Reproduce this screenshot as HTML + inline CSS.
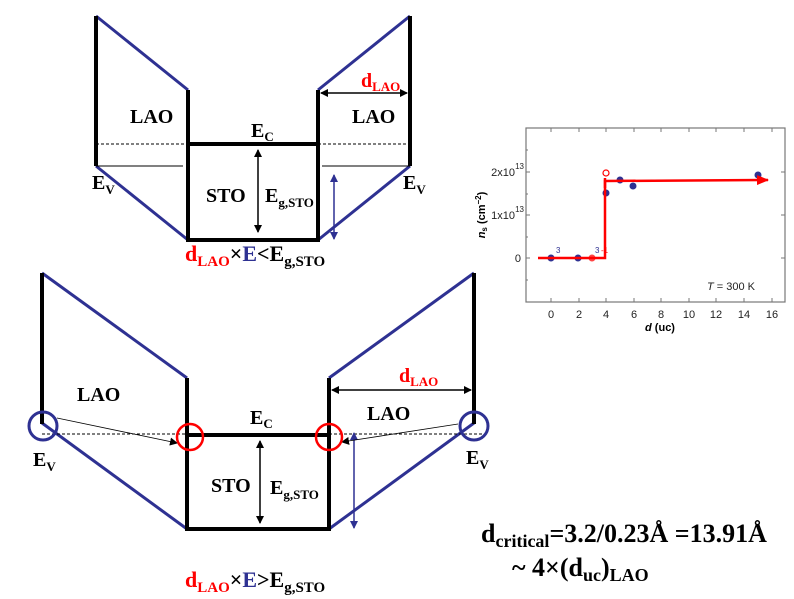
<!DOCTYPE html>
<html><head><meta charset="utf-8"><style>
html,body{margin:0;padding:0;background:#fff;}
svg{display:block;}
.s{font-family:"Liberation Serif",serif;font-weight:bold;}
.a{font-family:"Liberation Sans",sans-serif;}
</style></head><body>
<svg width="794" height="599" viewBox="0 0 794 599" xmlns="http://www.w3.org/2000/svg">
<defs>
<marker id="ak" markerWidth="8" markerHeight="8" refX="7" refY="4" orient="auto-start-reverse" markerUnits="userSpaceOnUse"><path d="M0,0 L8,4 L0,8 z" fill="#000"/></marker>
<marker id="ab" markerWidth="8" markerHeight="8" refX="7" refY="4" orient="auto-start-reverse" markerUnits="userSpaceOnUse"><path d="M0,0 L8,4 L0,8 z" fill="#2e3192"/></marker>
<marker id="ar" markerWidth="12" markerHeight="10" refX="11" refY="5" orient="auto" markerUnits="userSpaceOnUse"><path d="M0,0 L12,5 L0,10 z" fill="#f00"/></marker>
</defs>
<!-- TOP DIAGRAM -->
<g stroke-linecap="butt">
<line x1="96" y1="16" x2="188" y2="90" stroke="#2e3192" stroke-width="3"/>
<line x1="96" y1="166" x2="188" y2="240" stroke="#2e3192" stroke-width="3"/>
<line x1="318" y1="90" x2="410" y2="16" stroke="#2e3192" stroke-width="3"/>
<line x1="318" y1="240" x2="410" y2="166" stroke="#2e3192" stroke-width="3"/>
<line x1="96" y1="16" x2="96" y2="166" stroke="#000" stroke-width="4"/>
<line x1="410" y1="16" x2="410" y2="166" stroke="#000" stroke-width="4"/>
<line x1="188" y1="90" x2="188" y2="240" stroke="#000" stroke-width="4"/>
<line x1="318" y1="90" x2="318" y2="240" stroke="#000" stroke-width="4"/>
<line x1="188" y1="144" x2="318" y2="144" stroke="#000" stroke-width="4"/>
<line x1="186" y1="240" x2="320" y2="240" stroke="#000" stroke-width="4"/>
<line x1="96" y1="144" x2="188" y2="144" stroke="#000" stroke-width="1" stroke-dasharray="3,2"/>
<line x1="318" y1="144" x2="410" y2="144" stroke="#000" stroke-width="1" stroke-dasharray="3,2"/>
<line x1="96" y1="166" x2="183" y2="166" stroke="#000" stroke-width="1"/>
<line x1="322" y1="166" x2="410" y2="166" stroke="#000" stroke-width="1"/>
<line x1="321" y1="93" x2="407" y2="93" stroke="#000" stroke-width="1.5" marker-start="url(#ak)" marker-end="url(#ak)"/>
<line x1="258" y1="150" x2="258" y2="232" stroke="#000" stroke-width="1.5" marker-start="url(#ak)" marker-end="url(#ak)"/>
<line x1="334" y1="175" x2="334" y2="239" stroke="#2e3192" stroke-width="1.5" marker-start="url(#ab)" marker-end="url(#ab)"/>
</g>
<g class="s" font-size="20">
<text x="130" y="123">LAO</text>
<text x="352" y="123">LAO</text>
<text x="251" y="137">E<tspan font-size="13" dy="4">C</tspan></text>
<text x="206" y="202">STO</text>
<text x="265" y="202">E<tspan font-size="13" dy="5">g,STO</tspan></text>
<text x="92" y="189">E<tspan font-size="13" dy="5">V</tspan></text>
<text x="403" y="189">E<tspan font-size="13" dy="5">V</tspan></text>
<text x="361" y="87" fill="#f00">d<tspan font-size="13" dy="4">LAO</tspan></text>
</g>
<text class="s" x="185" y="261" font-size="22"><tspan fill="#f00">d</tspan><tspan fill="#f00" font-size="15" dy="5">LAO</tspan><tspan dy="-5">×</tspan><tspan fill="#2e3192">E</tspan>&lt;E<tspan font-size="15" dy="5">g,STO</tspan></text>

<!-- BOTTOM DIAGRAM -->
<g>
<line x1="42" y1="273" x2="187" y2="378" stroke="#2e3192" stroke-width="3"/>
<line x1="42" y1="423" x2="187" y2="529" stroke="#2e3192" stroke-width="3"/>
<line x1="329" y1="378" x2="474" y2="273" stroke="#2e3192" stroke-width="3"/>
<line x1="329" y1="529" x2="474" y2="423" stroke="#2e3192" stroke-width="3"/>
<line x1="42" y1="273" x2="42" y2="424" stroke="#000" stroke-width="4"/>
<line x1="474" y1="273" x2="474" y2="424" stroke="#000" stroke-width="4"/>
<line x1="187" y1="378" x2="187" y2="529" stroke="#000" stroke-width="4"/>
<line x1="329" y1="378" x2="329" y2="529" stroke="#000" stroke-width="4"/>
<line x1="187" y1="435" x2="329" y2="435" stroke="#000" stroke-width="4"/>
<line x1="185" y1="529" x2="331" y2="529" stroke="#000" stroke-width="4"/>
<line x1="42" y1="434" x2="187" y2="434" stroke="#000" stroke-width="1" stroke-dasharray="3,2"/>
<line x1="329" y1="434" x2="482" y2="434" stroke="#000" stroke-width="1" stroke-dasharray="3,2"/>
<line x1="332" y1="390" x2="471" y2="390" stroke="#000" stroke-width="1.5" marker-start="url(#ak)" marker-end="url(#ak)"/>
<line x1="260" y1="441" x2="260" y2="523" stroke="#000" stroke-width="1.5" marker-start="url(#ak)" marker-end="url(#ak)"/>
<line x1="354" y1="433" x2="354" y2="528" stroke="#2e3192" stroke-width="1.5" marker-start="url(#ab)" marker-end="url(#ab)"/>
<line x1="57" y1="418" x2="177" y2="443" stroke="#000" stroke-width="0.8" marker-end="url(#ak)"/>
<line x1="458" y1="424" x2="342" y2="442" stroke="#000" stroke-width="0.8" marker-end="url(#ak)"/>
<circle cx="43" cy="426" r="14" fill="none" stroke="#2e3192" stroke-width="3"/>
<circle cx="474" cy="426" r="14" fill="none" stroke="#2e3192" stroke-width="3"/>
<circle cx="190" cy="437" r="13" fill="none" stroke="#f00" stroke-width="2.5"/>
<circle cx="329" cy="437" r="13" fill="none" stroke="#f00" stroke-width="2.5"/>
</g>
<g class="s" font-size="20">
<text x="77" y="401">LAO</text>
<text x="367" y="420">LAO</text>
<text x="250" y="424">E<tspan font-size="13" dy="4">C</tspan></text>
<text x="211" y="492">STO</text>
<text x="270" y="494">E<tspan font-size="13" dy="5">g,STO</tspan></text>
<text x="33" y="466">E<tspan font-size="13" dy="5">V</tspan></text>
<text x="466" y="464">E<tspan font-size="13" dy="5">V</tspan></text>
<text x="399" y="382" fill="#f00">d<tspan font-size="13" dy="4">LAO</tspan></text>
</g>
<text class="s" x="185" y="587" font-size="22"><tspan fill="#f00">d</tspan><tspan fill="#f00" font-size="15" dy="5">LAO</tspan><tspan dy="-5">×</tspan><tspan fill="#2e3192">E</tspan>&gt;E<tspan font-size="15" dy="5">g,STO</tspan></text>

<!-- Formula -->
<text class="s" x="481" y="542" font-size="26">d<tspan font-size="18" dy="5">critical</tspan><tspan dy="-5">=3.2/0.23Å =13.91Å</tspan></text>
<text class="s" x="512" y="576" font-size="26">~ 4×(d<tspan font-size="18" dy="5">uc</tspan><tspan dy="-5">)</tspan><tspan font-size="18" dy="5">LAO</tspan></text>

<!-- GRAPH -->
<g stroke="#777" stroke-width="1.2" fill="none">
<rect x="526" y="128" width="259" height="174"/>
</g>
<g stroke="#777" stroke-width="1">
<line x1="526" y1="172" x2="530" y2="172"/><line x1="526" y1="215" x2="530" y2="215"/><line x1="526" y1="258" x2="530" y2="258"/>
<line x1="526" y1="150" x2="528" y2="150"/><line x1="526" y1="194" x2="528" y2="194"/><line x1="526" y1="237" x2="528" y2="237"/><line x1="526" y1="280" x2="528" y2="280"/>
<line x1="785" y1="172" x2="781" y2="172"/><line x1="785" y1="215" x2="781" y2="215"/><line x1="785" y1="258" x2="781" y2="258"/>
<line x1="551" y1="302" x2="551" y2="298"/><line x1="579" y1="302" x2="579" y2="298"/><line x1="606" y1="302" x2="606" y2="298"/><line x1="634" y1="302" x2="634" y2="298"/><line x1="661" y1="302" x2="661" y2="298"/><line x1="689" y1="302" x2="689" y2="298"/><line x1="716" y1="302" x2="716" y2="298"/><line x1="744" y1="302" x2="744" y2="298"/><line x1="772" y1="302" x2="772" y2="298"/>
<line x1="551" y1="128" x2="551" y2="132"/><line x1="579" y1="128" x2="579" y2="132"/><line x1="606" y1="128" x2="606" y2="132"/><line x1="634" y1="128" x2="634" y2="132"/><line x1="661" y1="128" x2="661" y2="132"/><line x1="689" y1="128" x2="689" y2="132"/><line x1="716" y1="128" x2="716" y2="132"/><line x1="744" y1="128" x2="744" y2="132"/><line x1="772" y1="128" x2="772" y2="132"/>
</g>
<g class="a" font-size="11" fill="#222" text-anchor="middle">
<text x="551" y="318">0</text><text x="579" y="318">2</text><text x="606" y="318">4</text><text x="634" y="318">6</text><text x="661" y="318">8</text><text x="689" y="318">10</text><text x="716" y="318">12</text><text x="744" y="318">14</text><text x="772" y="318">16</text>
</g>
<g class="a" font-size="11" fill="#222" text-anchor="end">
<text x="521" y="262">0</text>
<text x="515" y="219">1x10</text><text x="524" y="212" font-size="8">13</text>
<text x="515" y="176">2x10</text><text x="524" y="169" font-size="8">13</text>
</g>
<text class="a" x="660" y="331" font-size="11" font-weight="bold" text-anchor="middle"><tspan font-style="italic">d</tspan> (uc)</text>
<text class="a" x="0" y="0" font-size="11" font-weight="bold" text-anchor="middle" transform="translate(485,215) rotate(-90)"><tspan font-style="italic">n</tspan><tspan font-size="8" dy="2">s</tspan><tspan dy="-2"> (cm</tspan><tspan font-size="8" dy="-4">−2</tspan><tspan dy="4">)</tspan></text>
<text class="a" x="707" y="290" font-size="11" fill="#222"><tspan font-style="italic">T</tspan> = 300 K</text>
<text class="a" x="556" y="253" font-size="8" fill="#2e3192">3</text>
<text class="a" x="595" y="253" font-size="8" fill="#2e3192">3</text>
<text class="a" x="601" y="253" font-size="8" fill="#f00">-1</text>
<g fill="#2e3192">
<circle cx="551" cy="258" r="3.5"/><circle cx="578" cy="258" r="3.5"/><circle cx="606" cy="193" r="3.5"/><circle cx="620" cy="180" r="3.5"/><circle cx="633" cy="186" r="3.5"/><circle cx="758" cy="175" r="3.5"/>
</g>
<circle cx="592" cy="258" r="3.5" fill="#f44"/>
<circle cx="606" cy="173" r="3" fill="none" stroke="#f00" stroke-width="1.2"/>
<polyline points="538,258 605,258 605,181 768,180" fill="none" stroke="#f00" stroke-width="2.5" marker-end="url(#ar)"/>
<line x1="605" y1="188" x2="605" y2="178" stroke="#f00" stroke-width="2.5"/>
</svg>
</body></html>
